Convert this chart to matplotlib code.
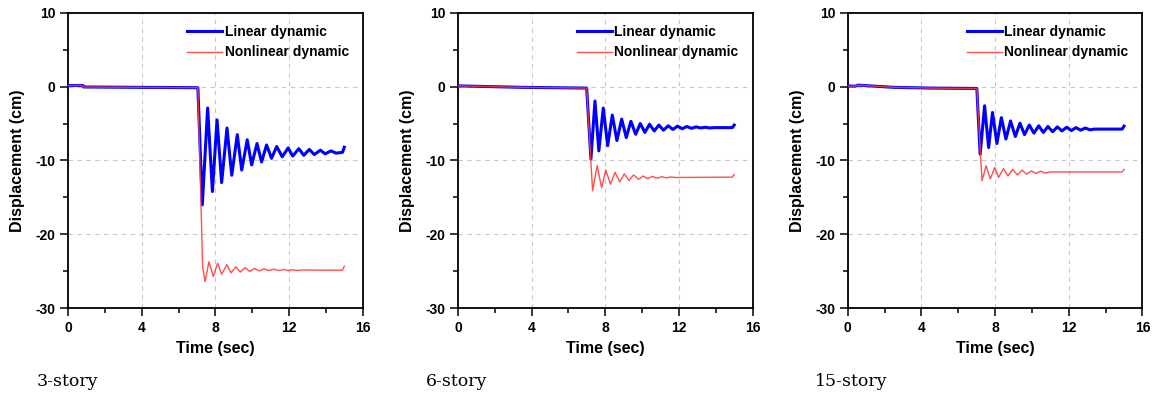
import matplotlib
matplotlib.use("Agg")
import matplotlib.pyplot as plt
from matplotlib.ticker import MultipleLocator

plt.rcParams["font.family"] = ["Liberation Sans", "DejaVu Sans"]
plt.rcParams["axes.unicode_minus"] = False

# === Data (extrema of the time histories) ===
# 3-story
t_lin_3 = [0, 0.8, 0.85, 4.0, 7.05, 7.29, 7.58, 7.84, 8.09, 8.34, 8.63, 8.89, 9.19, 9.43,
           9.73, 9.97, 10.26, 10.51, 10.78, 11.05, 11.33, 11.63, 11.95, 12.2, 12.53, 12.8,
           13.1, 13.37, 13.7, 13.96, 14.28, 14.55, 14.9, 15.0]
d_lin_3 = [0.15, 0.15, -0.05, -0.1, -0.15, -16.0, -2.9, -14.2, -4.5, -13.0, -5.6, -12.0, -6.5,
           -11.3, -7.2, -10.6, -7.7, -10.2, -7.9, -9.7, -8.1, -9.5, -8.3, -9.4, -8.4, -9.3,
           -8.5, -9.2, -8.6, -9.1, -8.7, -9.0, -8.9, -8.2]
t_non_3 = [0, 0.8, 0.85, 4.0, 7.05, 7.31, 7.44, 7.65, 7.89, 8.12, 8.34, 8.62, 8.85, 9.11,
           9.35, 9.62, 9.86, 10.13, 10.39, 10.64, 10.9, 11.17, 11.44, 11.7, 11.95, 12.2,
           12.45, 12.7, 14.9, 15.0]
d_non_3 = [0.15, 0.15, -0.05, -0.1, -0.15, -24.4, -26.4, -23.7, -25.7, -23.9, -25.4, -24.1,
           -25.2, -24.4, -25.1, -24.5, -25.0, -24.6, -24.95, -24.65, -24.9, -24.7, -24.9,
           -24.75, -24.9, -24.78, -24.88, -24.82, -24.85, -24.3]

# 6-story
t_lin_6 = [0, 3.5, 6.99, 7.22, 7.44, 7.65, 7.89, 8.13, 8.38, 8.63, 8.89, 9.14, 9.39, 9.65,
           9.9, 10.15, 10.4, 10.66, 10.91, 11.16, 11.42, 11.67, 11.92, 12.17, 12.43, 12.68,
           12.93, 13.18, 13.43, 13.68, 13.93, 14.9, 15.0]
d_lin_6 = [0.1, -0.1, -0.2, -9.8, -1.95, -8.7, -2.9, -8.0, -3.85, -7.3, -4.4, -6.9, -4.7,
           -6.45, -5.0, -6.2, -5.1, -6.0, -5.2, -5.9, -5.3, -5.8, -5.35, -5.7, -5.4, -5.65,
           -5.45, -5.6, -5.5, -5.6, -5.55, -5.55, -5.2]
t_non_6 = [0, 3.5, 6.99, 7.31, 7.56, 7.8, 8.03, 8.28, 8.53, 8.78, 9.03, 9.29, 9.54, 9.8,
           10.05, 10.3, 10.56, 10.81, 11.06, 11.31, 11.56, 11.81, 14.9, 15.0]
d_non_6 = [0.1, -0.1, -0.2, -14.1, -10.7, -13.7, -11.3, -13.2, -11.6, -12.9, -11.8, -12.7,
           -11.95, -12.55, -12.1, -12.45, -12.15, -12.4, -12.2, -12.35, -12.22, -12.3,
           -12.25, -11.9]

# 15-story
t_lin_15 = [0, 0.4, 0.55, 2.5, 4.5, 7.01, 7.19, 7.43, 7.65, 7.86, 8.1, 8.34, 8.59, 8.84,
            9.1, 9.35, 9.6, 9.86, 10.11, 10.37, 10.62, 10.87, 11.13, 11.38, 11.63, 11.89,
            12.14, 12.39, 12.65, 12.9, 13.15, 13.4, 14.9, 15.0]
d_lin_15 = [0.1, 0.05, 0.2, -0.1, -0.2, -0.25, -9.15, -2.6, -8.25, -3.5, -7.7, -4.2, -7.1,
            -4.65, -6.75, -4.95, -6.5, -5.2, -6.3, -5.3, -6.2, -5.4, -6.1, -5.45, -6.0,
            -5.5, -5.95, -5.55, -5.9, -5.6, -5.85, -5.75, -5.75, -5.35]
t_non_15 = [0, 0.4, 0.55, 2.5, 4.5, 7.01, 7.29, 7.51, 7.74, 7.98, 8.19, 8.45, 8.7, 8.95,
            9.21, 9.46, 9.71, 9.97, 10.22, 10.47, 10.73, 10.98, 14.9, 15.0]
d_non_15 = [0.1, 0.05, 0.2, -0.1, -0.2, -0.25, -12.75, -10.7, -12.5, -10.95, -12.3, -11.1,
            -12.1, -11.2, -11.95, -11.3, -11.85, -11.4, -11.75, -11.45, -11.7, -11.55,
            -11.55, -11.2]

panels = [
    ("3-story", t_lin_3, d_lin_3, t_non_3, d_non_3),
    ("6-story", t_lin_6, d_lin_6, t_non_6, d_non_6),
    ("15-story", t_lin_15, d_lin_15, t_non_15, d_non_15),
]
lefts = [0.0588, 0.3958, 0.7327]
caption_x = [0.032, 0.368, 0.704]

BLUE = "#0000FF"
RED = "#FF3B3B"

fig = plt.figure(figsize=(11.57, 3.96), dpi=100)

for (name, tl, dl, tn, dn), left, cx in zip(panels, lefts, caption_x):
    ax = fig.add_axes([left, 0.2215, 0.2547, 0.7464])

    ax.plot(tl, dl, color=BLUE, linewidth=2.2, label="Linear dynamic", zorder=3)
    ax.plot(tn, dn, color=RED, linewidth=1.0, alpha=0.9, label="Nonlinear dynamic", zorder=4)

    ax.set_xlim(0, 16)
    ax.set_ylim(-30, 10)
    ax.xaxis.set_major_locator(MultipleLocator(4))
    ax.xaxis.set_minor_locator(MultipleLocator(2))
    ax.yaxis.set_major_locator(MultipleLocator(10))
    ax.yaxis.set_minor_locator(MultipleLocator(5))

    ax.tick_params(which="major", direction="out", length=6, width=1.1, pad=3,
                   labelsize=10)
    ax.tick_params(which="minor", direction="out", length=3.5, width=1.1)
    for lab in ax.get_xticklabels() + ax.get_yticklabels():
        lab.set_fontweight("bold")

    for sp in ax.spines.values():
        sp.set_linewidth(1.3)

    ax.grid(True, which="major", color="#c8c8c8", linestyle=(0, (4, 4)), linewidth=0.8)

    ax.set_xlabel("Time (sec)", fontsize=11.5, fontweight="bold")
    ax.set_ylabel("Displacement (cm)", fontsize=11.5, fontweight="bold")
    ax.xaxis.set_label_coords(0.5, -0.11)
    ax.yaxis.set_label_coords(-0.145, 0.5)

    ax.legend(loc="upper left", bbox_to_anchor=(0.404, 0.96), frameon=False,
              borderpad=0, borderaxespad=0, handlelength=2.5, handletextpad=0.2,
              labelspacing=0.5, prop={"weight": "bold", "size": 10})

    fig.text(cx, 0.025, name, fontsize=12.5, family="DejaVu Serif",
             ha="left", va="baseline")

fig.savefig("out.png", dpi=100)
